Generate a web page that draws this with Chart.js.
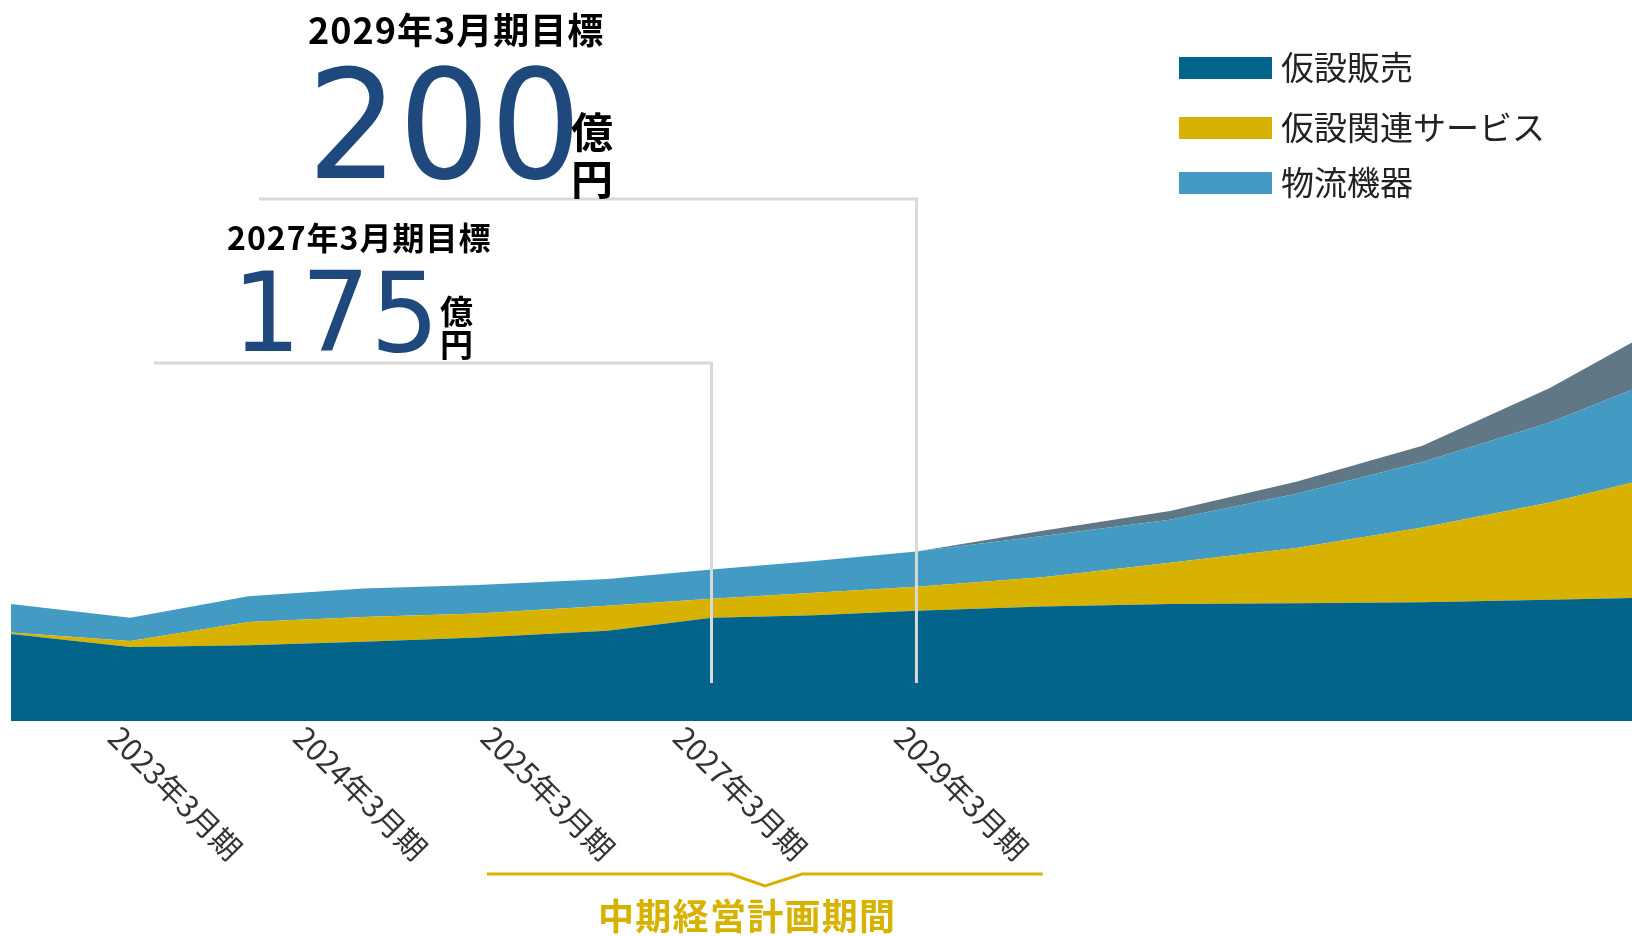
<!DOCTYPE html>
<html lang="ja">
<head>
<meta charset="utf-8">
<script src="https://cdn.jsdelivr.net/npm/chart.js@4.4.1/dist/chart.umd.min.js"></script>
<style>
html, body { margin: 0; padding: 0; background: #fff; }
#wrap { position: relative; width: 1632px; height: 936px; overflow: hidden; }
#chart { position: absolute; left: 0; top: 0; }
.t { position: absolute; white-space: nowrap; line-height: 1; font-family: "Noto Sans CJK JP", "Noto Sans", sans-serif; }
.ttl { font-weight: bold; color: #000; letter-spacing: 1px; }
.num { font-family: "DejaVu Sans", "Liberation Sans", sans-serif; color: #1f497d; transform-origin: 0 0; }
.unit { font-weight: bold; color: #000; }
.leg { position: absolute; display: flex; align-items: center; height: 32px; }
.leg span.box { display: inline-block; width: 93px; height: 22px; margin-right: 9px; }
.leg span.txt { font-family: "Noto Sans CJK JP", sans-serif; font-size: 33px; line-height: 1; color: #222; white-space: nowrap; position: relative; top: -2px; }
</style>
</head>
<body>
<div id="wrap">
  <canvas id="chart"></canvas>
  <div class="t ttl" style="left:308px; top:10px; font-size:36px;">2029年3月期目標</div>
  <div class="t num" id="num200">200</div>
  <div class="t unit" style="left:571px; top:109px; font-size:42px;">億</div>
  <div class="t unit" style="left:571px; top:156px; font-size:42px;">円</div>
  <div class="t ttl" style="left:227px; top:220px; font-size:32px;">2027年3月期目標</div>
  <div class="t num" id="num175">175</div>
  <div class="t unit" style="left:440px; top:294px; font-size:33px;">億</div>
  <div class="t unit" style="left:440px; top:327px; font-size:33px;">円</div>
  <div class="t" style="left:598px; top:896px; font-size:36px; font-weight:bold; color:#d8b200; letter-spacing:1.3px;">中期経営計画期間</div>
  <div id="legend"></div>
</div>
<script>
// period positions of the plotted points (x axis units)
const periods = [0, 1.03, 2.05, 3.04, 4.03, 5.15, 6.05, 6.94, 7.82, 8.91, 10.01, 11.10, 12.19, 13.29, 14];

// 売上 (億円)
const kasetsuHanbai  = [101, 86, 88, 92, 97, 105, 120, 123, 128, 133, 136, 137, 138, 141, 143];
const kasetsuService = [2, 7, 27, 29, 28, 29, 22, 26, 28, 34, 48, 64, 87, 113, 134];
const butsuryuKiki   = [33, 27, 30, 33, 33, 31, 34, 37, 41, 48, 50, 63, 76, 93, 108];
const sonota         = [0, 0, 0, 0, 0, 0, 0, 0, 0, 6, 10, 14, 19, 40, 55];

const seriesNames  = ['仮設販売', '仮設関連サービス', '物流機器'];
const seriesColors = ['#02638b', '#d8b200', '#439bc4', '#607886'];

const tickLabels = ['2023年3月期', '2024年3月期', '2025年3月期', '2027年3月期', '2029年3月期'];
const tickAt     = [0.89, 2.49, 4.11, 5.77, 7.68];

// legend
const legend = document.getElementById('legend');
const legendY = [68, 128, 183];
seriesNames.forEach((name, i) => {
    const row = document.createElement('div');
    row.className = 'leg';
    row.style.left = '1179px';
    row.style.top = (legendY[i] - 16) + 'px';
    row.innerHTML = '<span class="box" style="background:' + seriesColors[i] + '"></span><span class="txt">' + name + '</span>';
    legend.appendChild(row);
});

// 大きな数字を所定の枠に合わせる (ink box)
function fitNumber(el, box) {
    const fam = getComputedStyle(el).fontFamily;
    const c = document.createElement('canvas').getContext('2d');
    c.font = '100px ' + fam;
    const m = c.measureText(el.textContent);
    const inkH = m.actualBoundingBoxAscent + m.actualBoundingBoxDescent;
    const size = 100 * (box.bottom - box.top) / inkH;
    const k = size / 100;
    const inkW = (m.actualBoundingBoxLeft + m.actualBoundingBoxRight) * k;
    const sx = (box.right - box.left) / inkW;
    const fA = m.fontBoundingBoxAscent * k, fD = m.fontBoundingBoxDescent * k;
    const baseline = (size - fA - fD) / 2 + fA;
    el.style.fontSize = size + 'px';
    el.style.left = (box.left + m.actualBoundingBoxLeft * k * sx) + 'px';
    el.style.top = (box.top + m.actualBoundingBoxAscent * k - baseline) + 'px';
    el.style.transform = 'scaleX(' + sx + ')';
}

const toPoints = vals => vals.map((v, i) => ({ x: periods[i], y: v }));

const overlay = {
    id: 'overlay',
    afterDatasetsDraw(chart) {
        const { ctx, chartArea } = chart;
        const x = chart.scales.x;
        const bottom = chartArea.bottom;
        ctx.save();

        // 目標ライン
        ctx.strokeStyle = '#d9d9d9';
        ctx.lineWidth = 3;
        [[6, 154, 363], [8, 259, 199]].forEach(([idx, fromX, lineY]) => {
            const px = x.getPixelForValue(periods[idx]);
            ctx.beginPath();
            ctx.moveTo(fromX, lineY);
            ctx.lineTo(px, lineY);
            ctx.lineTo(px, bottom - 38);
            ctx.stroke();
        });

        // 軸ラベル
        ctx.fillStyle = '#333';
        ctx.font = '30px "Noto Sans CJK JP"';
        ctx.textAlign = 'left';
        ctx.textBaseline = 'middle';
        tickLabels.forEach((lab, i) => {
            ctx.save();
            ctx.translate(x.getPixelForValue(tickAt[i]), bottom + 11);
            ctx.rotate(Math.PI / 4);
            ctx.fillText(lab, 0, 0);
            ctx.restore();
        });

        // 中期経営計画期間の括弧
        const bx0 = x.getPixelForValue(tickAt[2]);
        const bx1 = x.getPixelForValue(periods[9]);
        const by = bottom + 153;
        ctx.strokeStyle = '#d8b200';
        ctx.lineWidth = 3;
        ctx.beginPath();
        ctx.moveTo(bx0, by);
        ctx.lineTo(731, by);
        ctx.lineTo(765, by + 12);
        ctx.lineTo(802, by);
        ctx.lineTo(bx1, by);
        ctx.stroke();

        ctx.restore();
    }
};

document.fonts.ready.then(() => {
    fitNumber(document.getElementById('num200'), { left: 317, right: 572, top: 65, bottom: 180 });
    fitNumber(document.getElementById('num175'), { left: 243, right: 430, top: 270, bottom: 353 });

    new Chart(document.getElementById('chart'), {
        type: 'line',
        data: {
            datasets: [
                { label: seriesNames[0], data: toPoints(kasetsuHanbai), backgroundColor: seriesColors[0], fill: 'origin' },
                { label: seriesNames[1], data: toPoints(kasetsuService), backgroundColor: seriesColors[1], fill: '-1' },
                { label: seriesNames[2], data: toPoints(butsuryuKiki), backgroundColor: seriesColors[2], fill: '-1' },
                { label: 'その他', data: toPoints(sonota), backgroundColor: seriesColors[3], fill: '-1' }
            ]
        },
        options: {
            responsive: true,
            maintainAspectRatio: false,
            animation: false,
            layout: { padding: { left: 11, right: 0, top: 0, bottom: 215 } },
            elements: {
                point: { radius: 0 },
                line: { borderWidth: 0, tension: 0 }
            },
            plugins: {
                legend: { display: false },
                tooltip: { enabled: false }
            },
            scales: {
                x: { type: 'linear', min: 0, max: 14, display: false },
                y: { stacked: true, min: 0, max: 838, display: false }
            }
        },
        plugins: [overlay]
    });
});
</script>
</body>
</html>
